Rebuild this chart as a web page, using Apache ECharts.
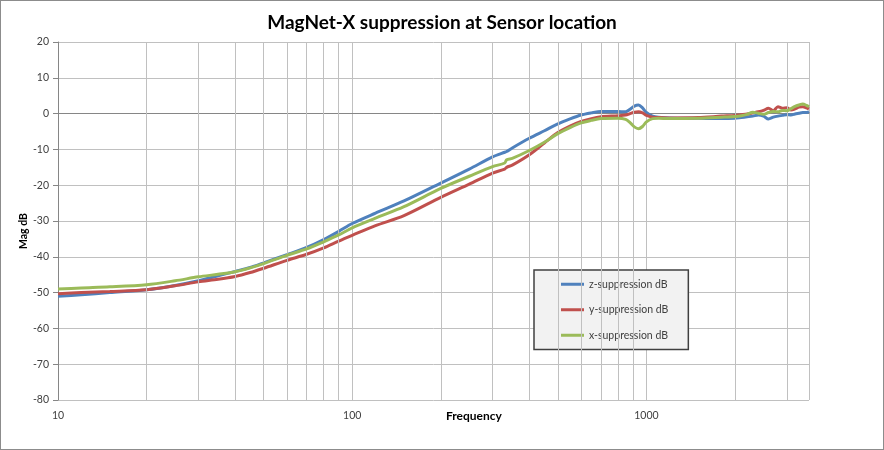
<!DOCTYPE html>
<html>
<head>
<meta charset="utf-8">
<script src="https://cdn.jsdelivr.net/npm/echarts@6/dist/echarts.min.js"></script>
<style>
html,body{margin:0;padding:0;background:#fff;}
#c{width:884px;height:450px;box-sizing:border-box;border:1px solid #8c8c8c;}
</style>
</head>
<body>
<div id="c"></div>
<script>
const titleText = 'MagNet-X suppression at Sensor location';
const seriesNames = ['z-suppression dB', 'y-suppression dB', 'x-suppression dB'];
const seriesColors = ['#4f81bd', '#c0504d', '#9bbb59'];
const freq = [10, 12, 15, 20, 25, 30, 35, 40, 45, 50, 60, 70, 80, 90, 100, 120, 150, 200, 250, 300, 330, 335, 350, 400, 450, 500, 550, 600, 650, 700, 800, 850, 880, 910, 940, 970, 1000, 1050, 1100, 1200, 1500, 1800, 2000, 2100, 2200, 2300, 2400, 2500, 2600, 2700, 2800, 2900, 3000, 3100, 3200, 3300, 3400, 3500, 3570];
const zSup = [-51.0, -50.6, -50.0, -49.2, -48.0, -46.7, -45.3, -44.1, -43.0, -41.7, -39.4, -37.4, -35.2, -32.9, -30.7, -27.8, -24.4, -19.4, -15.5, -12.1, -10.8, -10.6, -9.6, -6.9, -4.8, -2.9, -1.5, -0.4, 0.2, 0.6, 0.6, 0.5, 1.2, 2.1, 2.4, 1.6, 0.3, -0.7, -1.0, -1.2, -1.3, -1.4, -1.3, -1.1, -0.9, -0.7, -0.4, -0.7, -1.5, -1.0, -0.7, -0.5, -0.3, -0.4, -0.1, 0.1, 0.3, 0.3, 0.6];
const ySup = [-50.3, -50.0, -49.7, -49.2, -48.1, -47.0, -46.3, -45.5, -44.4, -43.2, -41.0, -39.3, -37.5, -35.6, -34.0, -31.3, -28.5, -23.4, -19.7, -16.6, -15.5, -15.0, -14.4, -11.5, -8.2, -5.3, -3.5, -2.2, -1.4, -0.9, -0.6, -0.4, 0.0, 0.4, 0.5, 0.2, -0.5, -1.0, -1.1, -1.2, -1.1, -0.7, -0.5, -0.3, -0.1, 0.2, 0.5, 0.9, 1.5, 0.8, 1.9, 1.5, 1.6, 1.0, 1.3, 1.8, 1.9, 1.6, 1.3];
const xSup = [-49.0, -48.7, -48.4, -47.8, -46.7, -45.6, -44.9, -44.2, -43.1, -41.9, -39.6, -37.8, -35.8, -33.9, -31.9, -29.2, -26.0, -20.9, -17.5, -14.8, -13.8, -12.9, -12.5, -10.3, -8.0, -5.6, -3.9, -2.6, -1.9, -1.4, -1.3, -1.6, -2.5, -3.7, -4.2, -3.6, -2.3, -1.4, -1.3, -1.4, -1.3, -1.0, -0.8, -0.6, -0.2, 0.4, 0.1, -0.2, 0.3, 0.6, 0.5, 0.9, 0.8, 1.4, 2.0, 2.4, 2.7, 2.3, 1.9];
const minorGrid = [20, 30, 40, 50, 60, 70, 80, 90, 200, 300, 400, 500, 600, 700, 800, 900, 2000, 3000];
const xMin = 10, xMax = 3570;
const yMin = -80, yMax = 20, yStep = 10;
const xTickLabels = [10, 100, 1000];

const font = 'Lato, "Open Sans", sans-serif';
const chart = echarts.init(document.getElementById('c'));
const values = [zSup, ySup, xSup];

const series = [{
  type: 'line', name: '_grid', data: [], silent: true, z: 1,
  markLine: {
    silent: true, symbol: 'none', label: {show: false},
    lineStyle: {color: '#c0c0c0', width: 1, type: 'solid'},
    emphasis: {disabled: true},
    animation: false,
    data: minorGrid.map(v => ({xAxis: v}))
  }
}];
values.forEach((arr, i) => {
  series.push({
    type: 'line', name: seriesNames[i],
    data: freq.map((f, k) => [f, arr[k]]),
    showSymbol: false, symbol: 'none', smooth: 0.3,
    lineStyle: {color: seriesColors[i], width: 3},
    itemStyle: {color: seriesColors[i]},
    z: 3 + i, animation: false
  });
});

chart.setOption({
  backgroundColor: '#fff',
  animation: false,
  title: {
    text: titleText, left: 'center', top: 7,
    textStyle: {fontFamily: font, fontSize: 19, fontWeight: 'bold', color: '#000'}
  },
  grid: {left: 57, right: 74, top: 41, bottom: 49, containLabel: false},
  legend: {
    data: seriesNames, orient: 'vertical', left: 533, top: 269,
    icon: 'rect', itemWidth: 23, itemHeight: 3, itemGap: 11,
    padding: [7, 20, 7, 27],
    backgroundColor: '#f2f2f2', borderColor: '#404040', borderWidth: 1.5,
    textStyle: {fontFamily: font, fontSize: 10.5, color: '#404040', lineHeight: 14.5}
  },
  xAxis: {
    type: 'log', logBase: 10, min: xMin, max: xMax,
    axisLine: {show: true, lineStyle: {color: '#868686'}},
    axisTick: {show: false},
    splitLine: {show: true, lineStyle: {color: '#c0c0c0', width: 1}},
    axisLabel: {
      fontFamily: font, fontSize: 10.5, color: '#404040', margin: 10,
      formatter: v => {
        for (const t of xTickLabels) { if (Math.abs(v - t) / t < 1e-6) return String(t); }
        return '';
      }
    }
  },
  yAxis: {
    type: 'value', min: yMin, max: yMax, interval: yStep,
    axisLine: {show: true, lineStyle: {color: '#868686'}},
    axisTick: {show: true, length: 5, lineStyle: {color: '#868686'}},
    splitLine: {show: true, lineStyle: {color: '#c0c0c0', width: 1}},
    axisLabel: {fontFamily: font, fontSize: 10.5, color: '#404040', margin: 9}
  },
  graphic: [{
    type: 'text', left: 445, top: 409,
    style: {text: 'Frequency', font: 'bold 12px ' + font, fill: '#000'}
  }, {
    type: 'text', x: 23, y: 230, rotation: Math.PI / 2,
    style: {text: 'Mag dB', font: 'bold 10.5px ' + font, fill: '#000', align: 'center', verticalAlign: 'middle'}
  }],
  series: series
});
</script>
</body>
</html>
